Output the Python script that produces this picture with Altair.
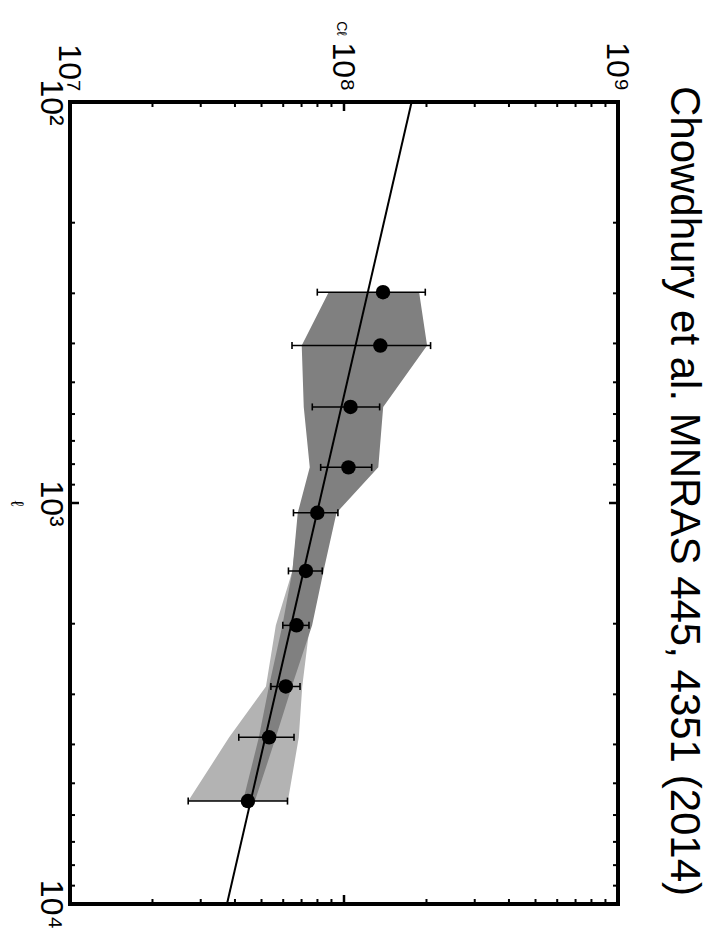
import altair as alt
import pandas as pd

# multipole values of the binned points
ell = [298, 405, 576, 815, 1058, 1477, 2019, 2868, 3840, 5538]
# measured C_l and 1-sigma error bar limits
cl = [1.388e8, 1.357e8, 1.056e8, 1.038e8, 7.99e7, 7.26e7, 6.71e7, 6.13e7, 5.33e7, 4.46e7]
err_lo = [7.99e7, 6.46e7, 7.66e7, 8.22e7, 6.54e7, 6.27e7, 5.98e7, 5.41e7, 4.13e7, 2.70e7]
err_hi = [1.98e8, 2.07e8, 1.349e8, 1.262e8, 9.50e7, 8.33e7, 7.45e7, 6.91e7, 6.57e7, 6.22e7]
# dark grey band
dark_lo = [8.79e7, 7.01e7, 7.13e7, 7.50e7, 6.78e7, 6.48e7, 5.96e7, 5.32e7, 4.89e7, 4.28e7]
dark_hi = [1.88e8, 2.01e8, 1.39e8, 1.334e8, 9.39e7, 8.42e7, 7.65e7, 6.45e7, 5.64e7, 4.73e7]
# light grey band
light_lo = [8.93e7, 7.25e7, 7.31e7, 7.55e7, 6.84e7, 6.48e7, 5.64e7, 5.19e7, 3.81e7, 2.70e7]
light_hi = [1.82e8, 1.90e8, 1.334e8, 1.27e8, 8.93e7, 8.08e7, 7.50e7, 7.04e7, 6.84e7, 6.24e7]
# power-law fit line end points
fit_ell = [100, 10000]
fit_cl = [1.765e8, 3.74e7]

# axis ticks
x_major = [1e7, 1e8, 1e9]
x_minor = [2e7, 3e7, 4e7, 5e7, 6e7, 7e7, 8e7, 9e7, 2e8, 3e8, 4e8, 5e8, 6e8, 7e8, 8e8, 9e8]
y_major = [100, 1000, 10000]
y_minor = [200, 300, 400, 500, 600, 700, 800, 900, 2000, 3000, 4000, 5000, 6000, 7000, 8000, 9000]
sup = ["⁰", "¹", "²", "³", "⁴", "⁵", "⁶", "⁷", "⁸", "⁹"]

TITLE = "Chowdhury et al. MNRAS 445, 4351 (2014)"
W, H = 548, 802
FONT = "Liberation Sans"

df = pd.DataFrame(dict(ell=ell, cl=cl, err_lo=err_lo, err_hi=err_hi,
                       dark_lo=dark_lo, dark_hi=dark_hi,
                       light_lo=light_lo, light_hi=light_hi))
fit = pd.DataFrame(dict(ell=fit_ell, cl=fit_cl))
xt_minor = pd.DataFrame(dict(v=x_minor))
xt_major = pd.DataFrame(dict(v=x_major[1:2]))
yt_minor = pd.DataFrame(dict(v=y_minor))
yt_major = pd.DataFrame(dict(v=y_major[1:2]))

xs = alt.Scale(type="log", domain=[1e7, 1e9], nice=False)
ys = alt.Scale(type="log", domain=[100, 10000], reverse=True, nice=False)
sup_arr = "[" + ",".join("'" + s + "'" for s in sup) + "]"
lab = "'10' + " + sup_arr + "[round(log(datum.value)/LN10)]"

xaxis = alt.Axis(orient="top", values=x_major, labelExpr=lab, labelAngle=90,
                 labelAlign="right", labelBaseline="middle", labelFontSize=32,
                 labelFont=FONT, labelColor="black", ticks=False, tickSize=0,
                 domain=False, grid=False, labelPadding=11, labelFlush=False,
                 labelOverlap=False, labelOffset=-2, labelBound=False,
                 title="Cℓ", titleAngle=90, titleX=270, titleY=-74,
                 titleAlign="center", titleBaseline="middle", titleFontSize=14,
                 titleFont=FONT, titleFontWeight="normal", titleColor="black")
yaxis = alt.Axis(orient="left", values=y_major, labelExpr=lab, labelAngle=90,
                 labelAlign="center", labelBaseline="top", labelFontSize=32,
                 labelFont=FONT, labelColor="black", ticks=False, tickSize=0,
                 domain=False, grid=False, labelPadding=5, labelFlush=False,
                 labelOverlap=False, labelBound=False,
                 title="ℓ", titleAngle=90, titleX=-55, titleY=401,
                 titleAlign="center", titleBaseline="middle", titleFontSize=18,
                 titleFont=FONT, titleFontWeight="normal", titleColor="black")


def X(field):
    return alt.X(field, scale=xs, axis=xaxis)


def Y(field):
    return alt.Y(field, scale=ys, axis=yaxis)


base = alt.Chart(df)

light = base.mark_area(orient="horizontal", color="#b3b3b3", opacity=1).encode(
    y=Y("ell:Q"), x=X("light_lo:Q"), x2="light_hi:Q")
dark = base.mark_area(orient="horizontal", color="#808080", opacity=1).encode(
    y=Y("ell:Q"), x=X("dark_lo:Q"), x2="dark_hi:Q")
fitline = alt.Chart(fit).mark_line(color="black", strokeWidth=2).encode(
    y=Y("ell:Q"), x=X("cl:Q"), order="ell:Q")
ebar = base.mark_rule(color="black", strokeWidth=1.5).encode(
    y=Y("ell:Q"), x=X("err_lo:Q"), x2="err_hi:Q")
cap_lo = base.mark_tick(orient="vertical", color="black", size=7, thickness=1.6, opacity=1).encode(
    y=Y("ell:Q"), x=X("err_lo:Q"))
cap_hi = base.mark_tick(orient="vertical", color="black", size=7, thickness=1.6, opacity=1).encode(
    y=Y("ell:Q"), x=X("err_hi:Q"))
pts = base.mark_circle(color="black", size=210, opacity=1).encode(
    y=Y("ell:Q"), x=X("cl:Q"))


def xticks(d, L, w):
    top = alt.Chart(d).mark_rule(color="black", strokeWidth=w).encode(
        x=X("v:Q"), y=alt.value(0), y2=alt.value(L))
    bot = alt.Chart(d).mark_rule(color="black", strokeWidth=w).encode(
        x=X("v:Q"), y=alt.value(H), y2=alt.value(H - L))
    return [top, bot]


def yticks(d, L, w):
    left = alt.Chart(d).mark_rule(color="black", strokeWidth=w).encode(
        y=Y("v:Q"), x=alt.value(0), x2=alt.value(L))
    right = alt.Chart(d).mark_rule(color="black", strokeWidth=w).encode(
        y=Y("v:Q"), x=alt.value(W), x2=alt.value(W - L))
    return [left, right]


layers = [light, dark, fitline, ebar, cap_lo, cap_hi, pts]
layers += xticks(xt_minor, 5, 2) + xticks(xt_major, 9, 2.5)
layers += yticks(yt_minor, 5, 2) + yticks(yt_major, 9, 2.5)

chart = alt.layer(*layers).properties(
    width=W, height=H,
    background="white",
    title=alt.TitleParams(TITLE, orient="right", anchor="middle", fontSize=42,
                          font=FONT, fontWeight="normal", color="black",
                          offset=30, dx=-12),
    autosize=alt.AutoSizeParams(type="none"),
    padding={"left": 62, "top": 94, "right": 90, "bottom": 40},
).configure_view(stroke="black", strokeWidth=4)

chart.save("out.html", embed_options={"renderer": "svg", "actions": False})
